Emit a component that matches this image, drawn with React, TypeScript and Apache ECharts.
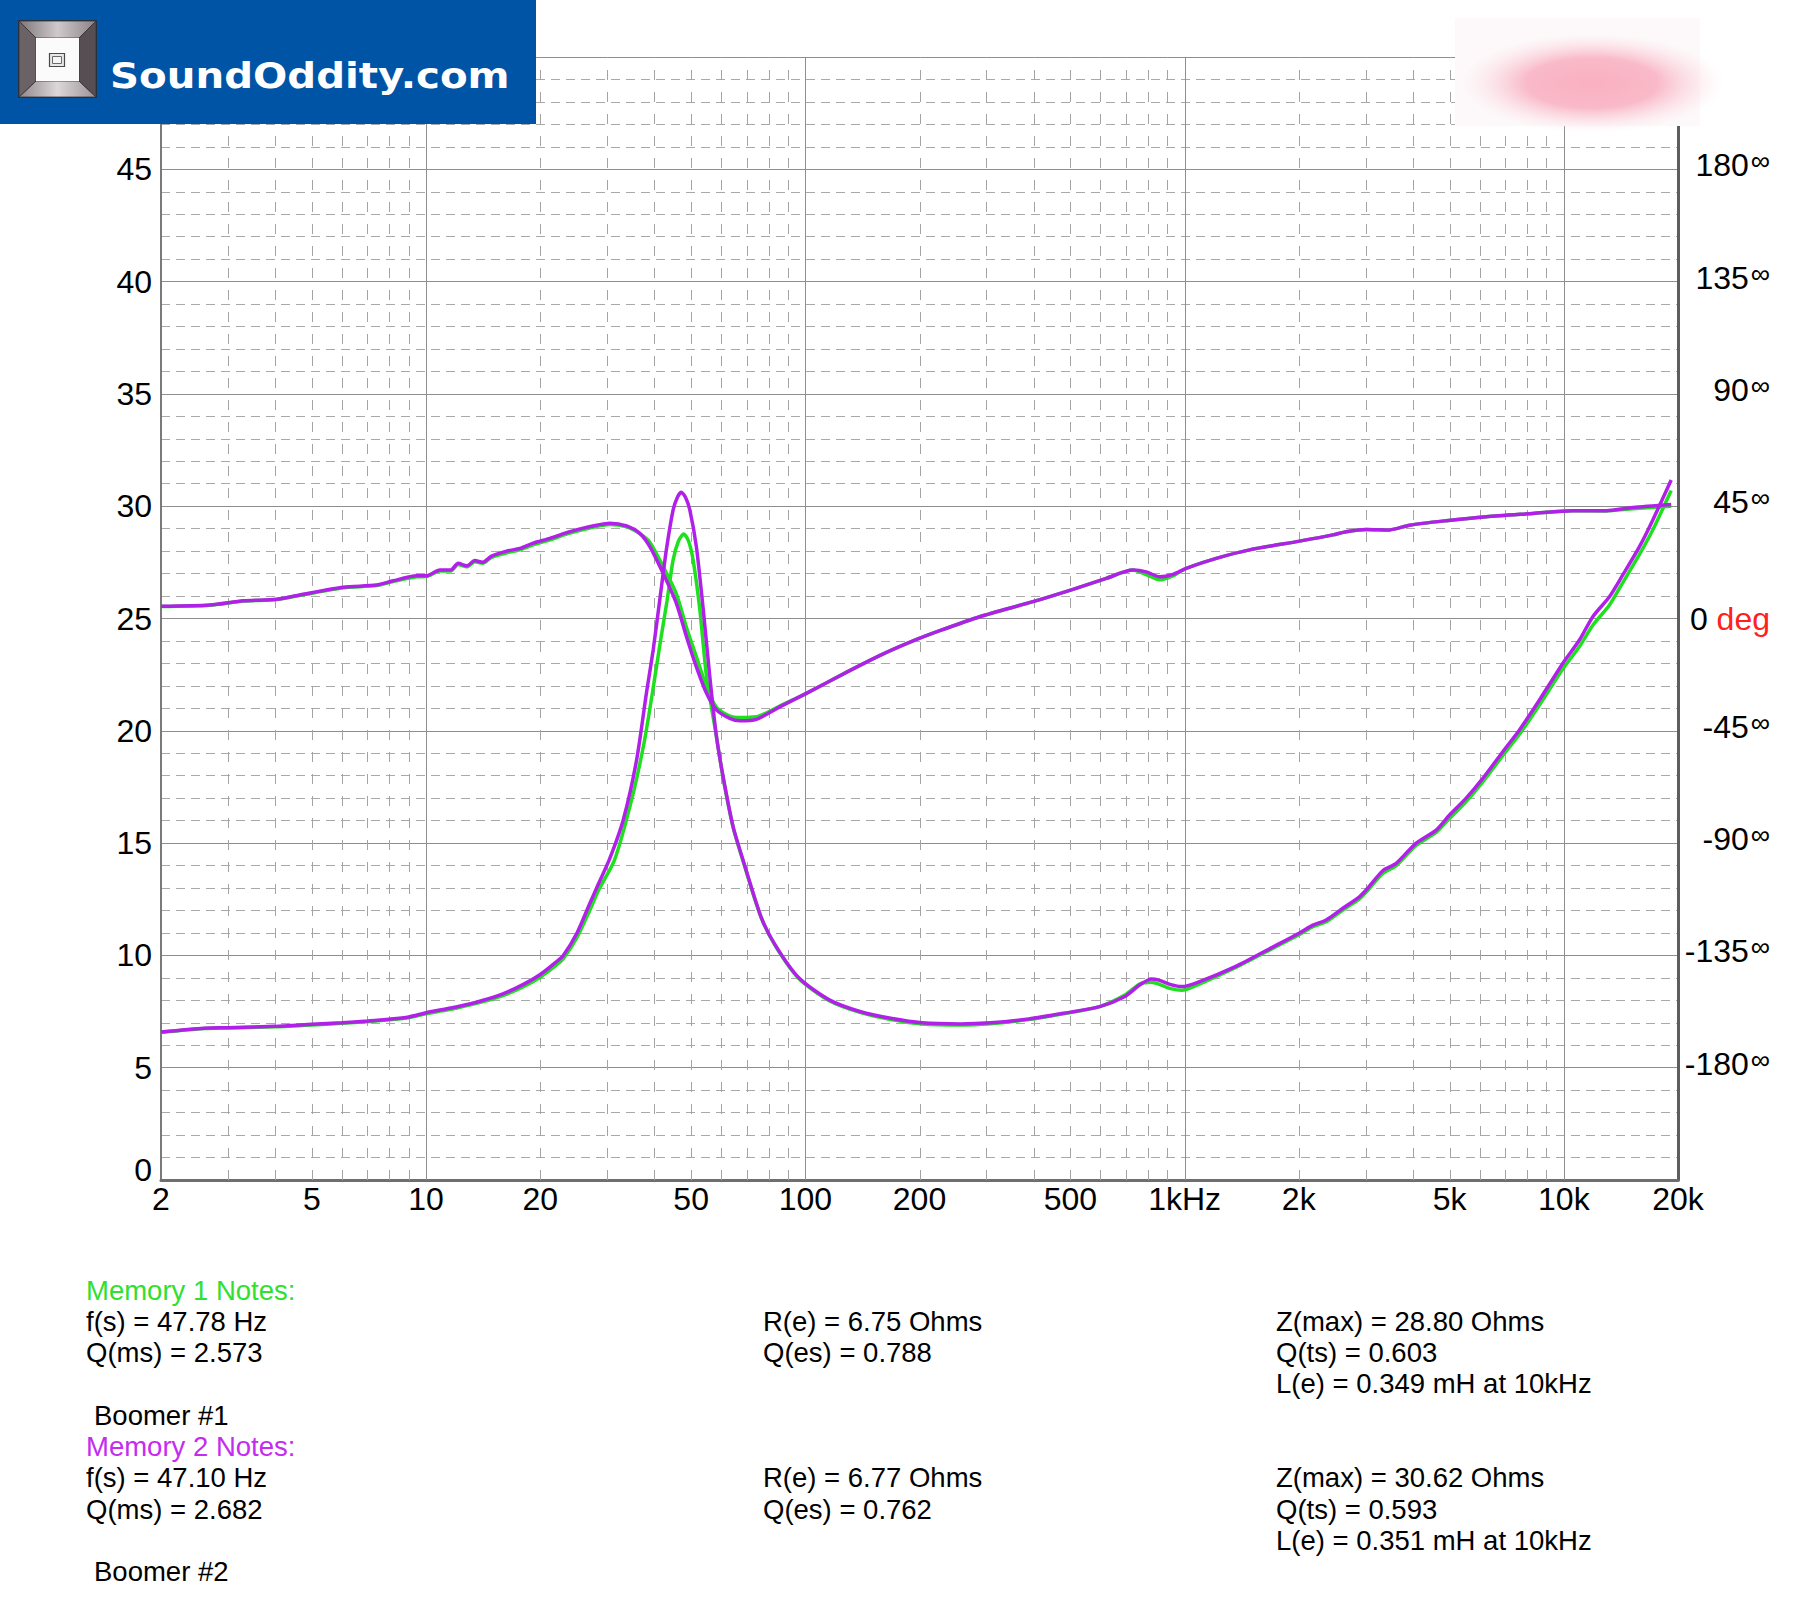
import React, { useEffect, useRef } from 'react';
import * as echarts from 'echarts';

const GREEN = '#1fe01f';
const PURPLE = '#b020e8';
const FONT = '"Liberation Sans", Arial, sans-serif';

// X tick labels (log frequency axis)
const xTickValues = [2, 5, 10, 20, 50, 100, 200, 500, 1000, 2000, 5000, 10000, 20000];
const xTickLabels = ['2', '5', '10', '20', '50', '100', '200', '500', '1kHz', '2k', '5k', '10k', '20k'];
const majorGridFreqs = [10, 100, 1000, 10000];
const minorGridFreqs = [
  3, 4, 5, 6, 7, 8, 9,
  20, 30, 40, 50, 60, 70, 80, 90,
  200, 300, 400, 500, 600, 700, 800, 900,
  2000, 3000, 4000, 5000, 6000, 7000, 8000, 9000,
];

// Memory 2 (purple) impedance, ohms
const m2ImpF = [2, 2.6, 3, 4, 5, 6, 7, 8, 9, 10, 11, 12, 14, 16, 18, 20, 22, 23, 25, 27, 28.5, 30.4, 33.1, 35.9, 38.1, 39.7, 41.3, 43, 44.8, 46, 47.1, 48.3, 49.6, 51.6, 53.8, 56, 58.3, 60.7, 64.5, 68.5, 76.4, 83.8, 96.4, 116, 140, 168, 203, 256, 308, 388, 479, 597, 694, 761, 817, 855, 920, 983, 1079, 1361, 1717, 2009, 2178, 2363, 2614, 2891, 3011, 3332, 3614, 4080, 4607, 4995, 5527, 6114, 6904, 7638, 8625, 9934, 10995, 11922, 13192, 14304, 15828, 17166, 19190];
const m2Imp = [6.59, 6.76, 6.78, 6.84, 6.93, 7.0, 7.08, 7.16, 7.26, 7.45, 7.58, 7.7, 7.98, 8.3, 8.7, 9.15, 9.7, 10.0, 11.0, 12.3, 13.2, 14.25, 16.03, 18.7, 21.67, 23.6, 25.8, 28.05, 29.83, 30.4, 30.62, 30.4, 29.83, 28.2, 25.4, 22.4, 19.74, 17.96, 15.73, 14.25, 11.72, 10.39, 8.98, 8.01, 7.49, 7.2, 7.0, 6.95, 7.0, 7.17, 7.42, 7.72, 8.16, 8.68, 8.95, 8.9, 8.7, 8.61, 8.79, 9.5, 10.39, 11.0, 11.35, 11.58, 12.1, 12.61, 12.91, 13.77, 14.1, 15.0, 15.58, 16.25, 17.0, 17.88, 19.07, 20.04, 21.37, 23.0, 24.04, 25.08, 25.97, 26.94, 28.2, 29.39, 31.17];

// Memory 1 (green) impedance, ohms
const m1ImpF = [2, 2.6, 3, 4, 5, 6, 7, 8, 9, 10, 11, 12, 14, 16, 18, 20, 22, 23, 25, 27, 28.5, 31.4, 34.8, 37.5, 39.5, 41.5, 43.2, 44.8, 46.3, 47.8, 49.2, 50.6, 52.7, 54.9, 58.3, 60.7, 64.5, 68.5, 76.4, 83.8, 96.4, 116, 140, 168, 203, 256, 308, 388, 479, 597, 694, 761, 817, 855, 920, 983, 1079, 1361, 1717, 2009, 2178, 2363, 2614, 2891, 3011, 3332, 3614, 4080, 4607, 4995, 5527, 6114, 6904, 7638, 8625, 9934, 10995, 11922, 13192, 14304, 15828, 17166, 19190];
const m1Imp = [6.57, 6.74, 6.77, 6.82, 6.9, 6.98, 7.05, 7.13, 7.22, 7.4, 7.53, 7.65, 7.92, 8.22, 8.6, 9.03, 9.55, 9.85, 10.8, 12.0, 12.9, 14.25, 16.9, 19.4, 21.67, 24.0, 25.8, 27.6, 28.45, 28.76, 28.45, 27.6, 25.4, 22.4, 19.74, 17.9, 15.7, 14.2, 11.7, 10.36, 8.95, 7.97, 7.45, 7.15, 6.95, 6.9, 6.96, 7.14, 7.4, 7.72, 8.22, 8.72, 8.8, 8.72, 8.52, 8.45, 8.68, 9.45, 10.33, 10.93, 11.28, 11.5, 12.02, 12.52, 12.82, 13.65, 14.0, 14.9, 15.48, 16.1, 16.85, 17.72, 18.9, 19.85, 21.15, 22.75, 23.75, 24.7, 25.6, 26.6, 27.85, 28.95, 30.7];

// Phase, degrees (right axis)
const phF = [2, 2.69, 3.3, 4.04, 4.74, 6.05, 7.4, 8.19, 9.44, 10, 10.88, 11.6, 12.15, 12.8, 13.45, 14.1, 14.88, 16.3, 17.67, 19.15, 21.2, 23.46, 25.95, 28.14, 30.5, 33.8, 36.6, 38.9, 42.2, 45.7, 48.6, 51.6, 54.9, 58.3, 63.2, 67.2, 74.3, 85.6, 100.6, 130.9, 160, 192.3, 226.2, 288.2, 398.3, 507.7, 621.7, 730.4, 792.5, 859.5, 931.7, 1010, 1212, 1484, 2009, 2459, 2667, 3011, 3470, 3919, 4895, 6242, 8281, 10554, 12930, 15200, 19190];
const m2Ph = [4.9, 5.4, 7.1, 7.7, 9.7, 12.5, 13.4, 15.1, 17.1, 17.1, 19.4, 19.4, 22.1, 21.1, 23.2, 22.5, 25.0, 27.0, 28.1, 30.2, 32.1, 34.4, 36.2, 37.4, 38.2, 37.1, 34.1, 28.8, 18.0, 6.1, -7.3, -19.4, -30.0, -36.6, -40.0, -41.0, -40.4, -35.4, -30.0, -20.9, -14.3, -9.0, -4.9, 0.7, 6.75, 11.7, 16.1, 19.4, 18.7, 16.7, 17.7, 20.1, 24.1, 27.5, 31.0, 33.5, 34.8, 35.7, 35.5, 37.4, 39.2, 40.8, 42.1, 43.2, 43.2, 44.5, 45.7];
const m1Ph = [4.8, 5.3, 7.0, 7.6, 9.5, 12.3, 13.2, 14.8, 16.7, 16.8, 19.0, 19.0, 21.6, 20.7, 22.7, 22.1, 24.5, 26.3, 27.5, 29.5, 31.5, 33.8, 35.6, 36.9, 37.7, 36.7, 34.0, 30.6, 20.7, 9.9, -3.6, -15.3, -27.5, -35.6, -39.1, -39.7, -39.4, -35.1, -30.0, -20.9, -14.3, -9.0, -4.9, 0.7, 6.75, 11.7, 16.1, 19.4, 17.6, 15.5, 17.1, 20.1, 24.1, 27.5, 31.0, 33.5, 34.8, 35.7, 35.5, 37.4, 39.2, 40.8, 42.1, 43.2, 43.1, 44.0, 45.0];

const notes1Head = 'Memory 1 Notes:';
const notes1Col1 = ['f(s) = 47.78 Hz', 'Q(ms) = 2.573'];
const notes1Col2 = ['R(e) = 6.75 Ohms', 'Q(es) = 0.788'];
const notes1Col3 = ['Z(max) = 28.80 Ohms', 'Q(ts) = 0.603', 'L(e) = 0.349 mH at 10kHz'];
const notes1Name = 'Boomer #1';
const notes2Head = 'Memory 2 Notes:';
const notes2Col1 = ['f(s) = 47.10 Hz', 'Q(ms) = 2.682'];
const notes2Col2 = ['R(e) = 6.77 Ohms', 'Q(es) = 0.762'];
const notes2Col3 = ['Z(max) = 30.62 Ohms', 'Q(ts) = 0.593', 'L(e) = 0.351 mH at 10kHz'];
const notes2Name = 'Boomer #2';

const zip = (f: number[], v: number[]) => f.map((x, i) => [x, v[i]]);

function noteText(text: string, x: number, y: number, color = '#000') {
  return {
    type: 'text',
    z: 100,
    x,
    y,
    style: { text, fill: color, fontSize: 27.5, fontFamily: FONT, align: 'left', verticalAlign: 'middle' },
  };
}

function buildNotes() {
  const rowY = (r: number) => 1290 + r * 31.3;
  const c1 = 86, c2 = 763, c3 = 1276;
  const els: any[] = [];
  const block = (base: number, head: string, col1: string[], col2: string[], col3: string[], name: string, color: string) => {
    els.push(noteText(head, c1, rowY(base), color));
    col1.forEach((t, i) => els.push(noteText(t, c1, rowY(base + 1 + i))));
    col2.forEach((t, i) => els.push(noteText(t, c2, rowY(base + 1 + i))));
    col3.forEach((t, i) => els.push(noteText(t, c3, rowY(base + 1 + i))));
    els.push(noteText(name, c1 + 8, rowY(base + 4)));
  };
  block(0, notes1Head, notes1Col1, notes1Col2, notes1Col3, notes1Name, '#30e030');
  block(5, notes2Head, notes2Col1, notes2Col2, notes2Col3, notes2Name, '#c42cf0');
  return els;
}

function buildLogo() {
  return {
    type: 'group',
    z: 100,
    children: [
      { type: 'rect', z: 100, shape: { x: 0, y: 0, width: 536, height: 124 }, style: { fill: '#0054a6' } },
      { type: 'rect', z: 101, shape: { x: 19, y: 21, width: 77, height: 76 }, style: { fill: '#5e5559', stroke: '#2a2528', lineWidth: 1.5 } },
      {
        type: 'polygon', z: 102, shape: { points: [[19, 21], [96, 21], [79, 38], [36, 38]] },
        style: { fill: new echarts.graphic.LinearGradient(0, 0, 1, 0, [{ offset: 0, color: '#7d7579' }, { offset: 0.5, color: '#cfc9cc' }, { offset: 1, color: '#8a8286' }]), stroke: '#3a3336', lineWidth: 0.8 },
      },
      {
        type: 'polygon', z: 102, shape: { points: [[19, 97], [96, 97], [79, 81], [36, 81]] },
        style: { fill: new echarts.graphic.LinearGradient(0, 0, 1, 0, [{ offset: 0, color: '#8f878b' }, { offset: 0.5, color: '#dcd7d9' }, { offset: 1, color: '#9a9296' }]), stroke: '#3a3336', lineWidth: 0.8 },
      },
      { type: 'polygon', z: 102, shape: { points: [[19, 21], [36, 38], [36, 81], [19, 97]] }, style: { fill: '#6b6266', stroke: '#3a3336', lineWidth: 0.8 } },
      { type: 'polygon', z: 102, shape: { points: [[96, 21], [79, 38], [79, 81], [96, 97]] }, style: { fill: '#564e52', stroke: '#3a3336', lineWidth: 0.8 } },
      { type: 'rect', z: 103, shape: { x: 36, y: 38, width: 43, height: 43 }, style: { fill: '#fbfbfb' } },
      { type: 'rect', z: 104, shape: { x: 49.5, y: 53.5, width: 15, height: 13 }, style: { fill: '#e8e8e8', stroke: '#4a4a4a', lineWidth: 1.2 } },
      { type: 'rect', z: 105, shape: { x: 52.5, y: 56.5, width: 9, height: 7 }, style: { fill: '#f4f4f4', stroke: '#6a6a6a', lineWidth: 1 } },
      {
        type: 'text', z: 106, x: 110, y: 76, scaleX: 1.12,
        style: { text: 'SoundOddity.com', fill: '#ffffff', fontSize: 36, fontWeight: 'bold', fontFamily: '"DejaVu Sans", Verdana, sans-serif', align: 'left', verticalAlign: 'middle' },
      },
    ],
  };
}

function buildBlurBox() {
  return {
    type: 'group',
    z: 100,
    children: [
      { type: 'rect', z: 100, shape: { x: 1455, y: 18, width: 245, height: 108 }, style: { fill: '#fdf9fa' } },
      {
        type: 'ellipse', z: 101, shape: { cx: 1592, cy: 83, rx: 132, ry: 50 },
        style: {
          fill: new echarts.graphic.RadialGradient(0.5, 0.5, 0.5, [
            { offset: 0, color: 'rgba(249,176,193,1)' },
            { offset: 0.5, color: 'rgba(249,180,196,0.92)' },
            { offset: 1, color: 'rgba(251,225,232,0)' },
          ]),
        },
      },
    ],
  };
}

export default function App() {
  const ref = useRef<HTMLDivElement>(null);
  useEffect(() => {
    document.body.style.margin = '0';
    const chart = echarts.init(ref.current!, null, { renderer: 'svg' });
    const gridData = [
      ...majorGridFreqs.map((f) => [f, 1]),
      ...minorGridFreqs.map((f) => [f, 0]),
    ];
    const option: any = {
      animation: false,
      backgroundColor: '#ffffff',
      grid: { left: 161, top: 57, width: 1517, height: 1123, containLabel: false },
      xAxis: {
        type: 'log',
        logBase: 10,
        min: 2,
        max: 20000,
        axisLine: { show: true, onZero: false, lineStyle: { color: '#6e6e6e', width: 3 } },
        axisTick: { show: false },
        axisLabel: { show: false },
        splitLine: { show: false },
      },
      yAxis: [
        {
          type: 'value',
          position: 'left',
          min: 0,
          max: 50,
          interval: 5,
          axisLine: { show: true, lineStyle: { color: '#7a7a7a', width: 2 } },
          axisTick: { show: false },
          axisLabel: {
            margin: 9,
            fontSize: 32,
            fontFamily: FONT,
            color: '#000',
            formatter: (v: number) => (v === 50 ? '' : v === 0 ? '{z|0}' : String(v)),
            rich: { z: { fontSize: 32, fontFamily: FONT, color: '#000', padding: [0, 0, 20, 0] } },
          },
          splitLine: { show: true, lineStyle: { color: '#8e8e8e', width: 1 } },
          minorTick: { show: false, splitNumber: 5 },
          minorSplitLine: { show: true, lineStyle: { color: '#a9a9a9', width: 1, type: [9, 6] } },
        },
        {
          type: 'value',
          position: 'right',
          min: -225,
          max: 225,
          interval: 45,
          axisLine: { show: true, lineStyle: { color: '#5e5e5e', width: 3 } },
          axisTick: { show: false },
          splitLine: { show: false },
          axisLabel: {
            margin: 92,
            align: 'right',
            fontSize: 32,
            fontFamily: FONT,
            color: '#000',
            formatter: (v: number) => {
              if (Math.abs(v) > 180) return '';
              if (v === 0) return '0 {red|deg}';
              return `{n|${v}}{inf|∞}`;
            },
            rich: {
              n: { fontSize: 32, fontFamily: FONT, color: '#000', padding: [0, 0, 8, 0] },
              red: { color: '#ff2020', fontSize: 32, fontFamily: FONT },
              inf: { fontSize: 27, fontFamily: FONT, color: '#000', padding: [0, 0, 16, 2] },
            },
          },
        },
      ],
      graphic: [buildLogo(), buildBlurBox(), ...buildNotes()],
      series: [
        {
          type: 'custom',
          name: 'vgrid',
          silent: true,
          z: 1,
          clip: false,
          xAxisIndex: 0,
          yAxisIndex: 0,
          data: gridData,
          encode: { x: 0, y: 1 },
          renderItem: (params: any, api: any) => {
            const f = api.value(0);
            const major = api.value(1) === 1;
            const p0 = api.coord([f, 0]);
            const p1 = api.coord([f, 50]);
            const x = Math.round(p0[0]) + 0.5;
            return {
              type: 'line',
              shape: { x1: x, y1: p0[1], x2: x, y2: p1[1] },
              style: major
                ? { stroke: '#8e8e8e', lineWidth: 1 }
                : { stroke: '#a4a4a4', lineWidth: 1, lineDash: [10, 12] },
            };
          },
        },
        {
          type: 'custom',
          name: 'xlabels',
          silent: true,
          z: 3,
          clip: false,
          xAxisIndex: 0,
          yAxisIndex: 0,
          data: xTickValues.map((f) => [f, 0]),
          encode: { x: 0, y: 1 },
          renderItem: (params: any, api: any) => {
            const p = api.coord([api.value(0), 0]);
            return {
              type: 'text',
              x: p[0],
              y: p[1] + 19,
              style: {
                text: xTickLabels[params.dataIndex],
                fill: '#000',
                fontSize: 32,
                fontFamily: FONT,
                align: 'center',
                verticalAlign: 'middle',
              },
            };
          },
        },
        {
          type: 'line', name: 'Memory 1 impedance', yAxisIndex: 0, z: 4, showSymbol: false, smooth: 0.25,
          data: zip(m1ImpF, m1Imp), lineStyle: { color: GREEN, width: 3.5 }, itemStyle: { color: GREEN },
        },
        {
          type: 'line', name: 'Memory 1 phase', yAxisIndex: 1, z: 4, showSymbol: false, smooth: 0.25,
          data: zip(phF, m1Ph), lineStyle: { color: GREEN, width: 3.5 }, itemStyle: { color: GREEN },
        },
        {
          type: 'line', name: 'Memory 2 impedance', yAxisIndex: 0, z: 5, showSymbol: false, smooth: 0.25,
          data: zip(m2ImpF, m2Imp), lineStyle: { color: PURPLE, width: 3.5 }, itemStyle: { color: PURPLE },
        },
        {
          type: 'line', name: 'Memory 2 phase', yAxisIndex: 1, z: 5, showSymbol: false, smooth: 0.25,
          data: zip(phF, m2Ph), lineStyle: { color: PURPLE, width: 3.5 }, itemStyle: { color: PURPLE },
        },
      ],
    };
    chart.setOption(option);
    return () => chart.dispose();
  }, []);
  return (
    <div
      ref={ref}
      style={{ position: 'absolute', left: 0, top: 0, width: 1800, height: 1599, background: '#fff' }}
    />
  );
}
